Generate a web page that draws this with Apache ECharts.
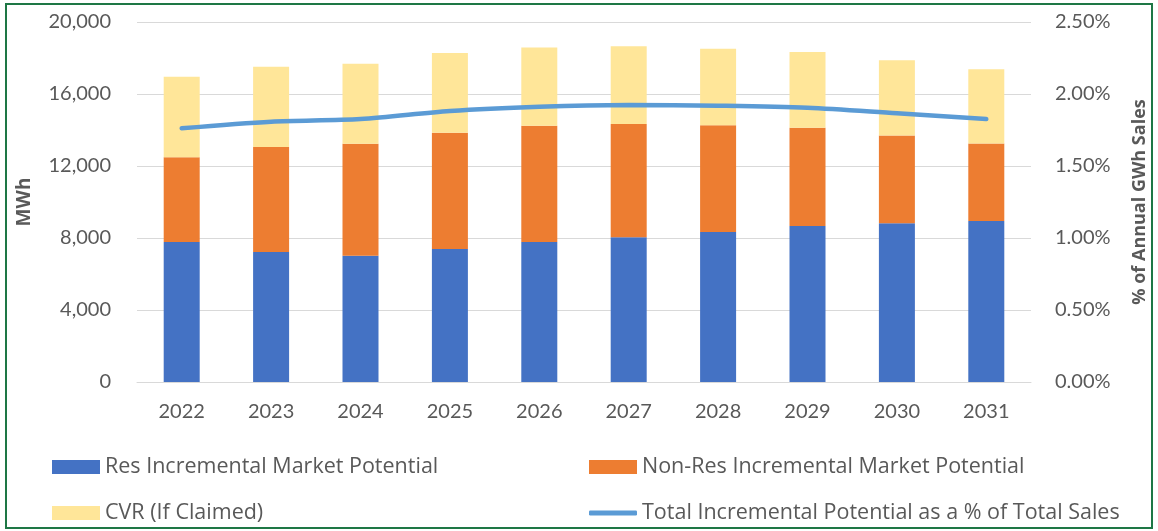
<!DOCTYPE html>
<html><head><meta charset="utf-8">
<script src="https://cdn.jsdelivr.net/npm/echarts@6/dist/echarts.min.js"></script>
<style>html,body{margin:0;padding:0;background:#fff}#c{width:1158px;height:531px}</style>
</head><body><div id="c"></div>
<script>
const categories = ['2022','2023','2024','2025','2026','2027','2028','2029','2030','2031'];
const resMWh = [7780, 7220, 7020, 7390, 7780, 8040, 8330, 8670, 8820, 8940];
const nonResMWh = [4700, 5830, 6220, 6460, 6460, 6290, 5930, 5460, 4880, 4310];
const cvrMWh = [4480, 4460, 4440, 4430, 4350, 4320, 4260, 4200, 4170, 4120];
const pctOfSales = [0.01762, 0.01808, 0.01826, 0.01882, 0.01912, 0.01924, 0.01919, 0.01905, 0.01866, 0.01826];
const leftTicks = {min: 0, max: 20000, interval: 4000};
const rightTicks = {min: 0, max: 0.025, interval: 0.005};
const names = ['Res Incremental Market Potential','Non-Res Incremental Market Potential','CVR (If Claimed)','Total Incremental Potential as a % of Total Sales'];

const FONT = 'Lato';
const LFONT = 'Open Sans';
const GRAY = '#595959';
const chart = echarts.init(document.getElementById('c'));
const legendBase = {itemWidth: 48, itemHeight: 14, icon: 'rect', textStyle: {fontFamily: LFONT, fontSize: 21.5, color: GRAY}, padding: 0};
chart.setOption({
  animation: false,
  graphic: [{type: 'rect', shape: {x: 6, y: 4, width: 1146, height: 524}, style: {fill: 'none', stroke: '#1E7745', lineWidth: 2}}],
  grid: {left: 137, right: 127, top: 22, bottom: 149},
  legend: [
    Object.assign({}, legendBase, {left: 52, top: 456, data: [names[0]]}),
    Object.assign({}, legendBase, {left: 589, top: 456, data: [names[1]]}),
    Object.assign({}, legendBase, {left: 52, top: 502, data: [names[2]]}),
    Object.assign({}, legendBase, {left: 589, top: 502, itemHeight: 5, icon: 'roundRect', data: [names[3]]})
  ],
  xAxis: {type: 'category', data: categories,
    axisLine: {lineStyle: {color: '#D9D9D9', width: 1}}, axisTick: {show: false},
    axisLabel: {fontFamily: FONT, fontSize: 20, color: GRAY, margin: 20}},
  yAxis: [
    {type: 'value', min: leftTicks.min, max: leftTicks.max, interval: leftTicks.interval,
      name: 'MWh', nameLocation: 'middle', nameGap: 103, nameRotate: 90,
      nameTextStyle: {fontFamily: LFONT, fontSize: 19, fontWeight: 'bold', color: GRAY},
      axisLabel: {fontFamily: FONT, fontSize: 20, color: GRAY, margin: 26, formatter: v => v.toLocaleString('en-US')},
      splitLine: {lineStyle: {color: '#D9D9D9', width: 1}}, axisLine: {show: false}, axisTick: {show: false}},
    {type: 'value', min: rightTicks.min, max: rightTicks.max, interval: rightTicks.interval,
      name: '% of Annual GWh Sales', nameLocation: 'middle', nameGap: 100, nameRotate: 90,
      nameTextStyle: {fontFamily: LFONT, fontSize: 18, fontWeight: 'bold', color: GRAY},
      axisLabel: {fontFamily: FONT, fontSize: 20, color: GRAY, margin: 24, formatter: v => (v * 100).toFixed(2) + '%'},
      splitLine: {show: false}, axisLine: {show: false}, axisTick: {show: false}}
  ],
  series: [
    {name: names[0], type: 'bar', stack: 't', data: resMWh, barWidth: 36, itemStyle: {color: '#4472C4'}},
    {name: names[1], type: 'bar', stack: 't', data: nonResMWh, barWidth: 36, itemStyle: {color: '#ED7D31'}},
    {name: names[2], type: 'bar', stack: 't', data: cvrMWh, barWidth: 36, itemStyle: {color: '#FFE699'}},
    {name: names[3], type: 'line', yAxisIndex: 1, data: pctOfSales, smooth: 0.3, symbol: 'none',
      lineStyle: {color: '#5B9BD5', width: 4.5, cap: 'round'}, itemStyle: {color: '#5B9BD5'}}
  ]
});
</script></body></html>
